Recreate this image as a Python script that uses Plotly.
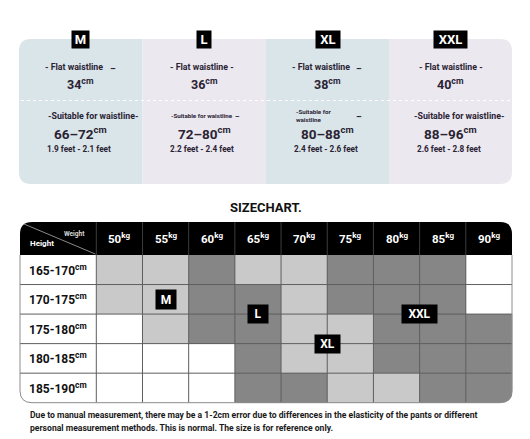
import plotly.graph_objects as go

# ---- data ----
sizes = ["M", "L", "XL", "XXL"]
flat_waist_cm = [34, 36, 38, 40]
fit_waist_cm = ["66–72", "72–80", "80–88", "88–96"]
fit_waist_feet = ["1.9 feet - 2.1 feet", "2.2 feet - 2.4 feet",
                  "2.4 feet - 2.6 feet", "2.6 feet - 2.8 feet"]
flat_label = ["- Flat waistline", "- Flat waistline -",
              "- Flat waistline", "- Flat waistline -"]
fit_label = ["-Suitable for waistline-", "-Suitable for waistline",
             "-Suitable for<br>waistline", "-Suitable for waistline-"]

weights_kg = [50, 55, 60, 65, 70, 75, 80, 85, 90]
heights_cm = ["165-170", "170-175", "175-180", "180-185", "185-190"]
# 0 = white, 1 = light grey, 2 = dark grey
shade = [
    [1, 1, 2, 1, 1, 2, 2, 2, 0],
    [1, 1, 2, 2, 1, 2, 2, 2, 0],
    [0, 1, 2, 2, 1, 1, 2, 2, 2],
    [0, 0, 0, 2, 1, 1, 2, 2, 2],
    [0, 0, 0, 2, 2, 1, 1, 2, 2],
]
note = ["Due to manual measurement, there may be a 1-2cm error due to differences in the elasticity of the pants or different",
        "personal measurement methods. This is normal. The size is for reference only."]

# ---- layout constants (px, y grows downward) ----
W, H = 530, 439
FONT = "Roboto, Open Sans, sans-serif"
INK = "#2a2333"

PX = [19, 142.5, 266, 389, 512]        # top panel edges
PY0, PY1, PR = 39, 184, 12
panel_fill = ["#dae5e9", "#ece8f0", "#dae5e9", "#ece8f0"]

TX0, TX1 = 20, 512
LX1 = 96.3
HY0, HY1 = 222, 255
RH = 29.54
CW = (TX1 - LX1) / len(weights_kg)
TY1 = HY1 + RH * len(heights_cm)
TR = 12


def col_x(i):
    return LX1 + (i + 0.5) * CW


def row_y(j):
    return HY1 + (j + 0.5) * RH


fig = go.Figure()

fig.add_trace(go.Heatmap(
    z=shade, x0=col_x(0), dx=CW, y0=row_y(0), dy=RH,
    zmin=0, zmax=2,
    colorscale=[[0, "#ffffff"], [0.5, "#c9c9c9"], [1, "#868686"]],
    showscale=False, hoverinfo="skip"))

shapes = []

# top panels
for k in range(4):
    x0, x1 = PX[k], PX[k + 1]
    if k == 0:
        p = (f"M {x1},{PY0} L {x0+PR},{PY0} Q {x0},{PY0} {x0},{PY0+PR} "
             f"L {x0},{PY1-PR} Q {x0},{PY1} {x0+PR},{PY1} L {x1},{PY1} Z")
    elif k == 3:
        p = (f"M {x0},{PY0} L {x1-PR},{PY0} Q {x1},{PY0} {x1},{PY0+PR} "
             f"L {x1},{PY1-PR} Q {x1},{PY1} {x1-PR},{PY1} L {x0},{PY1} Z")
    else:
        p = f"M {x0},{PY0} L {x1},{PY0} L {x1},{PY1} L {x0},{PY1} Z"
    shapes.append(dict(type="path", path=p, fillcolor=panel_fill[k],
                       line=dict(width=0), layer="below"))
shapes.append(dict(type="line", x0=PX[0] + 2, x1=PX[-1] - 2, y0=100.5, y1=100.5,
                   line=dict(color="#ffffff", width=1, dash="dot"), layer="below"))

# header bar
shapes.append(dict(type="path", fillcolor="#000000", line=dict(width=0),
                   path=(f"M {TX0},{HY1} L {TX0},{HY0+TR} Q {TX0},{HY0} {TX0+TR},{HY0} "
                         f"L {TX1-TR},{HY0} Q {TX1},{HY0} {TX1},{HY0+TR} L {TX1},{HY1} Z")))
for i in range(len(weights_kg)):
    x = LX1 + i * CW
    shapes.append(dict(type="line", x0=x, x1=x, y0=HY0, y1=HY1,
                       line=dict(color="#3c3c3c", width=1)))
shapes.append(dict(type="line", x0=TX0 + 4, y0=HY0 + 2, x1=LX1 - 1, y1=HY1 - 1,
                   line=dict(color="#8a8a8a", width=1)))

# grid lines
for i in range(len(weights_kg)):
    x = LX1 + i * CW
    shapes.append(dict(type="line", x0=x, x1=x, y0=HY1, y1=TY1,
                       line=dict(color="#5e5e5e", width=1)))
for j in range(1, len(heights_cm)):
    y = HY1 + j * RH
    shapes.append(dict(type="line", x0=TX0, x1=TX1, y0=y, y1=y,
                       line=dict(color="#5e5e5e", width=1)))

# rounded bottom corners: mask then outline
shapes.append(dict(type="path", fillcolor="#ffffff", line=dict(width=0),
                   path=f"M {TX0-1},{TY1-TR} Q {TX0},{TY1} {TX0+TR},{TY1} L {TX0+TR},{TY1+1} L {TX0-1},{TY1+1} Z"))
shapes.append(dict(type="path", fillcolor="#ffffff", line=dict(width=0),
                   path=f"M {TX1+1},{TY1-TR} Q {TX1},{TY1} {TX1-TR},{TY1} L {TX1-TR},{TY1+1} L {TX1+1},{TY1+1} Z"))
shapes.append(dict(type="path", line=dict(color="#8c8c8c", width=1),
                   path=(f"M {TX0},{HY1} L {TX0},{TY1-TR} Q {TX0},{TY1} {TX0+TR},{TY1} "
                         f"L {TX1-TR},{TY1} Q {TX1},{TY1} {TX1},{TY1-TR} L {TX1},{HY1}")))

ann = []


def text(x, y, s, size, color=INK, xanchor="center", **kw):
    ann.append(dict(x=x, y=y, xref="x", yref="y", text=s, showarrow=False,
                    xanchor=xanchor, yanchor="middle",
                    font=dict(family=FONT, size=size, color=color, weight="bold"), **kw))


def tag(x, y, s, w, h, size):
    ann.append(dict(x=x, y=y, xref="x", yref="y", text=s, showarrow=False,
                    width=w, height=h, bgcolor="#000000", borderpad=0,
                    font=dict(family=FONT, size=size, color="#ffffff", weight="bold")))


# top panels text
flat_dx = [-7, -2, -7, 0]
fit_dx = [12, 0, 0, 8]
tag_w = [17, 14, 24, 33]
for k, s in enumerate(sizes):
    cx = (PX[k] + PX[k + 1]) / 2
    tag(cx, 39.5, s, tag_w[k], 17, 13)
    text(cx + flat_dx[k], 67, flat_label[k], 8.8)
    text(cx, 84, f"{flat_waist_cm[k]}<sup>cm</sup>", 12.5)
    if k == 1:
        text(cx - 2, 116, fit_label[k], 6.2)
    elif k == 2:
        text(cx - 34, 116, fit_label[k], 6.2, xanchor="left", align="left")
    else:
        text(cx + fit_dx[k], 116, fit_label[k], 8.8)
    text(cx, 133, f"{fit_waist_cm[k]}<sup>cm</sup>", 13.5)
    text(cx - 2, 149, fit_waist_feet[k], 8.2)
# stray dashes on the L, M and XL panels
text(112.5, 68.5, "–", 9)
text(358.5, 68.5, "–", 9)
text(358.5, 116.5, "–", 9)
text(237, 117, "–", 7)

text(266, 207, "SIZECHART.", 13, color="#111111")

# header
text(LX1 - 9, 234, "Weight", 6.5, color="#d8d8d8", xanchor="right")
text(28, 243.5, "Height", 8, color="#ffffff", xanchor="left")
for i, w in enumerate(weights_kg):
    text(col_x(i), 238.5, f"{w}<sup>kg</sup>", 11.5, color="#ffffff")
for j, h in enumerate(heights_cm):
    text((TX0 + LX1) / 2, row_y(j), f"{h}<sup>cm</sup>", 12, color="#111111")

# size tags on the grid (col index, row index)
tag(col_x(1), row_y(1), "M", 20, 19, 12)
tag(col_x(3), row_y(1.5), "L", 20, 18, 12)
tag(col_x(4.5), row_y(2.5), "XL", 25, 18, 12)
tag(col_x(6.5), row_y(1.5), "XXL", 35, 18, 12)

text(28, 415, note[0], 8.6, color="#1a1a1a", xanchor="left")
text(28, 427.5, note[1], 8.6, color="#1a1a1a", xanchor="left")

fig.update_layout(
    width=W, height=H, margin=dict(l=0, r=0, t=0, b=0),
    paper_bgcolor="#ffffff", plot_bgcolor="#ffffff",
    xaxis=dict(range=[0, W], visible=False, fixedrange=True),
    yaxis=dict(range=[H, 0], visible=False, fixedrange=True),
    shapes=shapes, annotations=ann, showlegend=False)

fig.write_html("out.html", config={"displayModeBar": False},
               post_script="document.body.style.margin='0';")
